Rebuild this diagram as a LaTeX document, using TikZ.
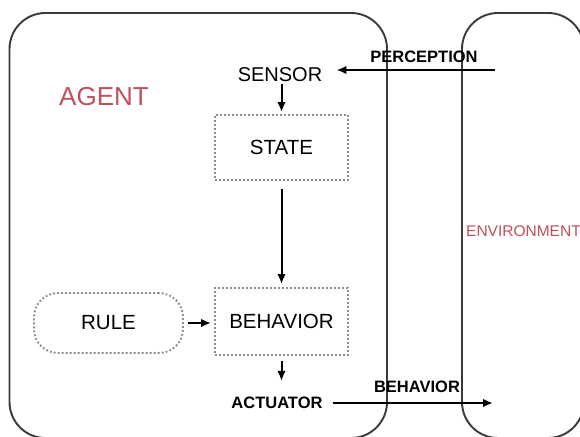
\documentclass[tikz,border=0pt]{standalone}
\usepackage{fontspec}
\setmainfont{Liberation Sans}
\usepackage{tikz}
\usetikzlibrary{arrows.meta,positioning}
\definecolor{framecolor}{HTML}{3A3A3A}
\definecolor{dotcolor}{HTML}{8E8E8E}
\definecolor{namecolor}{HTML}{C0505A}

\begin{document}
\begin{tikzpicture}[
        x=1pt, y=-1pt,
        outerbox/.style={draw=framecolor, line width=1.9pt, rounded corners=36pt},
        dotbox/.style={draw=dotcolor, line width=1.9pt, dash pattern=on 1.9pt off 2.1pt, minimum width=133pt, inner sep=0pt, font=\fontsize{20.5}{24}\selectfont},
        rulebox/.style={dotbox, minimum width=149pt, minimum height=60pt, rounded corners=24pt},
        boxtext/.style={inner sep=2pt, font=\fontsize{20}{23}\selectfont},
        flowtext/.style={inner sep=2pt, font=\bfseries\fontsize{16.5}{19}\selectfont},
        nametext/.style={text=namecolor, inner sep=0pt},
        flow/.style={draw=black, line width=2pt, -{Latex[length=10pt,width=8.5pt]}}
    ]
        \path[use as bounding box, fill=white] (0,0) rectangle (580,436);
        \clip (0,0) rectangle (580,436);

        \draw[outerbox] (9.5,13) rectangle (387,438);
        \draw[outerbox] (462,13) rectangle (584,438);

        \node[nametext, font=\fontsize{26}{30}\selectfont] (agentname) at (104,97) {AGENT};
        \node[nametext, anchor=west, font=\fontsize{15.5}{18}\selectfont] (envname) at (466,231) {ENVIRONMENT};

        \node[boxtext] (sensor) at (280,75) {SENSOR};
        \node[dotbox, minimum height=65pt] (state) at (281.5,147.5) {STATE};
        \node[dotbox, minimum height=67pt] (behavior) at (281.5,321.5) {BEHAVIOR};
        \node[rulebox] (rule) at (108.5,323) {RULE};
        \node[flowtext] (actuator) at (277,403) {ACTUATOR};

        \node[flowtext] (perclabel) at (424,57) {PERCEPTION};
        \node[flowtext] (behlabel) at (417,387) {BEHAVIOR};

        \coordinate (envin) at (495,70);
        \coordinate (envout) at (493,403);

        \draw[flow, shorten >=12pt] (envin) -- (sensor.east |- envin);
        \draw[flow, shorten >=2pt] (sensor.south -| state.north) -- (state.north);
        \draw[flow, shorten <=8pt, shorten >=3pt] (state.south) -- (behavior.north);
        \draw[flow, shorten <=4pt, shorten >=3pt] (rule.east) -- (rule.east -| behavior.west);
        \draw[flow, shorten <=5pt, shorten >=14pt] (behavior.south) -- (behavior.south |- actuator.north);
        \draw[flow, shorten <=8pt] (actuator.east) -- (envout);
    \end{tikzpicture}
\end{document}
